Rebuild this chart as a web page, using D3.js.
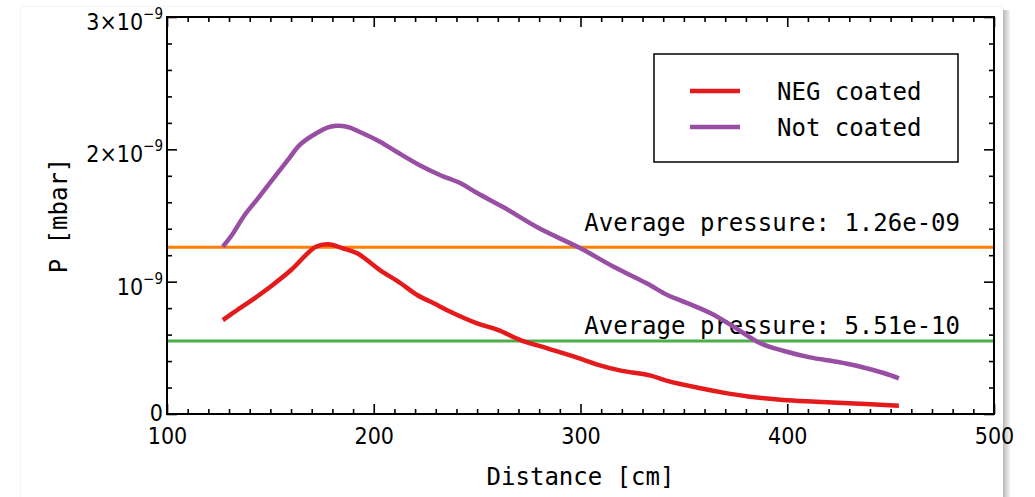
<!DOCTYPE html>
<html>
<head>
<meta charset="utf-8">
<script src="https://cdn.jsdelivr.net/npm/d3@7"></script>
<style>
  html, body { margin: 0; padding: 0; background: #fff; }
  svg { display: block; }
  .mono { font-family: "DejaVu Sans Mono", monospace; }
  .tick text { font-family: "DejaVu Sans Condensed", "DejaVu Sans", sans-serif; font-stretch: condensed; }
</style>
</head>
<body>
<svg id="chart" width="1035" height="497"></svg>
<script>
// pressure values are in units of 1e-9 mbar
const negDistance = [127, 134, 140, 150, 160, 168, 172, 178, 185, 192, 203, 213, 221, 229, 237, 250, 260, 271, 284, 297, 309, 319, 334, 342, 358, 371, 382, 398, 414, 430, 454];
const negPressure = [0.71, 0.786, 0.849, 0.962, 1.088, 1.214, 1.264, 1.282, 1.252, 1.214, 1.088, 0.988, 0.899, 0.837, 0.773, 0.685, 0.635, 0.559, 0.496, 0.433, 0.37, 0.33, 0.29, 0.25, 0.194, 0.156, 0.131, 0.106, 0.093, 0.081, 0.063];

const notDistance = [127, 132, 137, 144, 153, 159, 164, 171, 179, 187, 193, 203, 211, 222, 232, 242, 250, 263, 280, 300, 316, 332, 342, 348, 363, 374, 387, 398, 411, 424, 434, 447, 454];
const notPressure = [1.264, 1.366, 1.491, 1.63, 1.81, 1.93, 2.03, 2.11, 2.171, 2.171, 2.133, 2.058, 1.982, 1.882, 1.806, 1.743, 1.67, 1.56, 1.403, 1.252, 1.113, 0.988, 0.899, 0.861, 0.761, 0.66, 0.534, 0.478, 0.428, 0.395, 0.363, 0.308, 0.27];

const averages = [1.26, 0.551];
const averageLabels = ["Average pressure: 1.26e-09", "Average pressure: 5.51e-10"];
const averageColors = ["#ff7f00", "#4daf4a"];

const seriesNames = ["NEG coated", "Not coated"];
const seriesColors = ["#e41a1c", "#984ea3"];

const xTicks = [100, 200, 300, 400, 500];
const yTicks = [0, 1, 2, 3];
const yTickLabels = [["0", ""], ["10", "\u22129"], ["2\u00d710", "\u22129"], ["3\u00d710", "\u22129"]];

const svg = d3.select('#chart');

// faint page frame and shadow on the right
const defs = svg.append('defs');
const grad = defs.append('linearGradient').attr('id', 'shadow');
grad.append('stop').attr('offset', '0%').attr('stop-color', '#b8b8b8');
grad.append('stop').attr('offset', '100%').attr('stop-color', '#f4f4f4');
svg.append('rect').attr('x', 20.5).attr('y', 6.5).attr('width', 983).attr('height', 500)
  .attr('fill', 'none').attr('stroke', '#f3f3f3');
svg.append('rect').attr('x', 1003).attr('y', 10).attr('width', 7).attr('height', 490)
  .attr('fill', 'url(#shadow)');

const m = { left: 167, right: 994, top: 17, bottom: 414 };

const x = d3.scaleLinear().domain([100, 500]).range([m.left, m.right]);
const y = d3.scaleLinear().domain([0, 3]).range([m.bottom, m.top]);

const minorX = d3.range(100, 501, 10).filter(v => v % 100 !== 0);
const minorY = d3.range(0, 3.01, 0.2).map(v => +v.toFixed(1)).filter(v => v % 1 !== 0);

function drawAxis(axis, transform) {
  const g = svg.append('g').attr('transform', transform).call(axis);
  g.select('.domain').remove();
  g.selectAll('.tick line').attr('stroke', '#000').attr('stroke-width', 1.6);
  return g;
}

// major ticks with labels
const gx = drawAxis(d3.axisBottom(x).tickValues(xTicks).tickSize(-10).tickPadding(14), `translate(0,${m.bottom})`);
gx.selectAll('.tick text').attr('font-size', 23).attr('fill', '#000');

const gy = drawAxis(d3.axisLeft(y).tickValues(yTicks).tickSize(-10).tickPadding(4), `translate(${m.left},0)`);
gy.selectAll('.tick text')
  .attr('font-size', 23).attr('fill', '#000')
  .each(function (d, i) {
    const t = d3.select(this).text(null);
    const lab = yTickLabels[i];
    t.append('tspan').text(lab[0]);
    if (lab[1]) {
      t.attr('dy', '0.55em');
      t.append('tspan').attr('font-size', 15).attr('dy', '-0.75em').text(lab[1]);
    } else {
      t.attr('dy', '0.28em');
    }
  });

// minor ticks
drawAxis(d3.axisBottom(x).tickValues(minorX).tickSize(-5).tickFormat(''), `translate(0,${m.bottom})`);
drawAxis(d3.axisLeft(y).tickValues(minorY).tickSize(-5).tickFormat(''), `translate(${m.left},0)`);

// mirrored ticks on top and right
drawAxis(d3.axisTop(x).tickValues(xTicks).tickSize(-10).tickFormat(''), `translate(0,${m.top})`);
drawAxis(d3.axisTop(x).tickValues(minorX).tickSize(-5).tickFormat(''), `translate(0,${m.top})`);
drawAxis(d3.axisRight(y).tickValues(yTicks).tickSize(-10).tickFormat(''), `translate(${m.right},0)`);
drawAxis(d3.axisRight(y).tickValues(minorY).tickSize(-5).tickFormat(''), `translate(${m.right},0)`);

// average lines and labels
const labelGap = [16, 7];
averages.forEach((v, i) => {
  svg.append('line')
    .attr('x1', m.left).attr('x2', m.right)
    .attr('y1', y(v)).attr('y2', y(v))
    .attr('stroke', averageColors[i]).attr('stroke-width', 3);
  svg.append('text').attr('class', 'mono')
    .attr('x', 960).attr('y', y(v) - labelGap[i])
    .attr('text-anchor', 'end').attr('font-size', 24)
    .text(averageLabels[i]);
});

// data curves
const line = d3.line().x(d => x(d[0])).y(d => y(d[1])).curve(d3.curveCatmullRom);
const series = [d3.zip(negDistance, negPressure), d3.zip(notDistance, notPressure)];
series.forEach((s, i) => {
  svg.append('path')
    .attr('d', line(s))
    .attr('fill', 'none')
    .attr('stroke', seriesColors[i])
    .attr('stroke-width', 4.5)
    .attr('stroke-linejoin', 'round');
});

// frame
svg.append('rect')
  .attr('x', m.left).attr('y', m.top)
  .attr('width', m.right - m.left).attr('height', m.bottom - m.top)
  .attr('fill', 'none').attr('stroke', '#000').attr('stroke-width', 2);

// legend
const legend = svg.append('g');
legend.append('rect')
  .attr('x', 654).attr('y', 54).attr('width', 304).attr('height', 108)
  .attr('fill', '#fff').attr('stroke', '#000').attr('stroke-width', 1.5);
seriesNames.forEach((name, i) => {
  const ly = 91 + i * 36;
  legend.append('line')
    .attr('x1', 690).attr('x2', 740).attr('y1', ly).attr('y2', ly)
    .attr('stroke', seriesColors[i]).attr('stroke-width', 4.5);
  legend.append('text').attr('class', 'mono')
    .attr('x', 777).attr('y', ly + 9).attr('font-size', 24)
    .text(name);
});

// axis titles
svg.append('text').attr('class', 'mono')
  .attr('x', (m.left + m.right) / 2).attr('y', 485)
  .attr('text-anchor', 'middle').attr('font-size', 24)
  .text('Distance [cm]');
svg.append('text').attr('class', 'mono')
  .attr('transform', `translate(67,${(m.top + m.bottom) / 2}) rotate(-90)`)
  .attr('text-anchor', 'middle').attr('font-size', 24)
  .text('P [mbar]');
</script>
</body>
</html>
